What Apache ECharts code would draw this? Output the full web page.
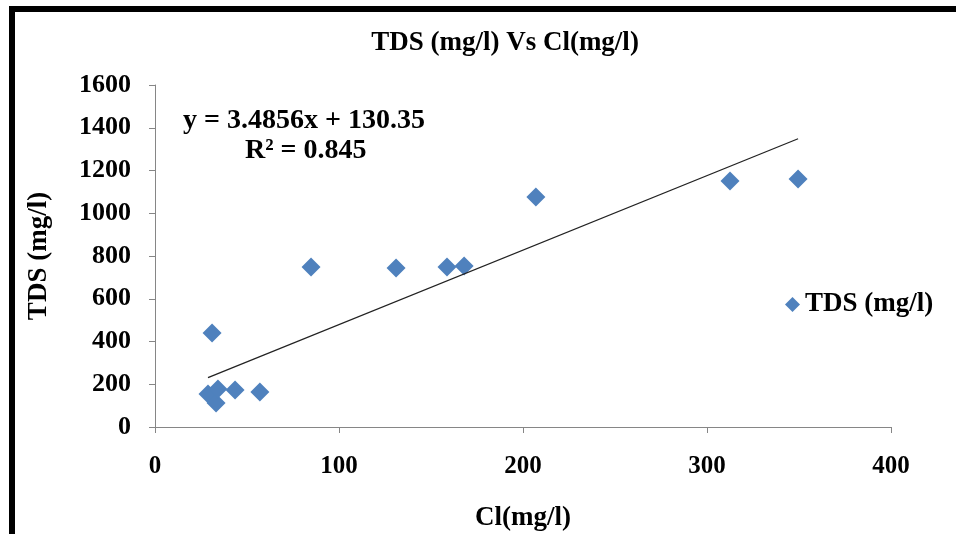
<!DOCTYPE html>
<html><head><meta charset="utf-8">
<script src="https://cdn.jsdelivr.net/npm/echarts@6/dist/echarts.min.js"></script>
<style>html,body{margin:0;padding:0;background:#fff}#c{width:956px;height:534px}</style>
</head><body><div id="c"></div>
<script>
var clValues = [28.8, 33.2, 34.2, 43.5, 57, 31, 84.8, 131, 158.7, 168, 207, 312.5, 349.5];
var tdsValues = [154, 112, 178, 173, 164, 440, 749, 744, 749, 753, 1076, 1151, 1160];
var trendSlope = 3.4856;
var trendIntercept = 130.35;
var equationLines = ['y = 3.4856x + 130.35', 'R² = 0.845'];
var titleText = 'TDS (mg/l) Vs Cl(mg/l)';
var xName = 'Cl(mg/l)';
var yName = 'TDS (mg/l)';
var seriesName = 'TDS (mg/l)';

var pts = clValues.map(function(x, i){ return [x, tdsValues[i]]; });
var xmin = Math.min.apply(null, clValues), xmax = Math.max.apply(null, clValues);
var trend = [[xmin, trendSlope*xmin + trendIntercept], [xmax, trendSlope*xmax + trendIntercept]];
var F = '"Liberation Serif", "Times New Roman", serif';
var plain = function(v){ return String(v); };
var chart = echarts.init(document.getElementById('c'));
chart.setOption({
  animation: false,
  backgroundColor: '#fff',
  title: { text: titleText, left: 500, top: 25, textAlign: 'center',
    textStyle: { fontFamily: F, fontWeight: 'bold', fontSize: 27, color: '#000' } },
  grid: { left: 155, right: 65, top: 85, bottom: 107, containLabel: false, outerBoundsMode: 'none' },
  legend: { left: 780, top: 286, icon: 'diamond', itemWidth: 15, itemHeight: 15, itemGap: 5,
    data: [seriesName],
    textStyle: { fontFamily: F, fontWeight: 'bold', fontSize: 27, color: '#000' } },
  xAxis: { type: 'value', min: 0, max: 400, interval: 100,
    name: xName, nameLocation: 'middle', nameGap: 78,
    nameTextStyle: { fontFamily: F, fontWeight: 'bold', fontSize: 27, color: '#000' },
    axisLine: { lineStyle: { color: '#868686', width: 1 } },
    axisTick: { inside: false, length: 6, lineStyle: { color: '#868686' } },
    splitLine: { show: false },
    axisLabel: { fontFamily: F, fontWeight: 'bold', fontSize: 25, color: '#000', margin: 27, formatter: plain } },
  yAxis: { type: 'value', min: 0, max: 1600, interval: 200,
    name: yName, nameLocation: 'middle', nameGap: 102, nameRotate: 90,
    nameTextStyle: { fontFamily: F, fontWeight: 'bold', fontSize: 27, color: '#000' },
    axisLine: { show: true, lineStyle: { color: '#868686', width: 1 } },
    axisTick: { show: true, inside: false, length: 6, lineStyle: { color: '#868686' } },
    splitLine: { show: false },
    axisLabel: { fontFamily: F, fontWeight: 'bold', fontSize: 26, color: '#000', margin: 24, formatter: plain } },
  series: [
    { name: 'trend', type: 'line', data: trend, symbol: 'none', silent: true,
      lineStyle: { color: '#222', width: 1.3 }, z: 3 },
    { name: seriesName, type: 'scatter', data: pts, symbol: 'diamond', symbolSize: 19,
      itemStyle: { color: '#4F81BD', opacity: 1 }, z: 2 }
  ],
  graphic: [
    { type: 'rect', shape: { x: 9, y: 6, width: 947, height: 6 }, style: { fill: '#000' } },
    { type: 'rect', shape: { x: 9, y: 6, width: 6, height: 528 }, style: { fill: '#000' } },
    { type: 'text', left: 183, top: 107, style: { text: equationLines[0], font: 'bold 28px ' + F, fill: '#000' } },
    { type: 'text', left: 245, top: 137, style: { text: equationLines[1], font: 'bold 28px ' + F, fill: '#000' } }
  ]
});
</script></body></html>
